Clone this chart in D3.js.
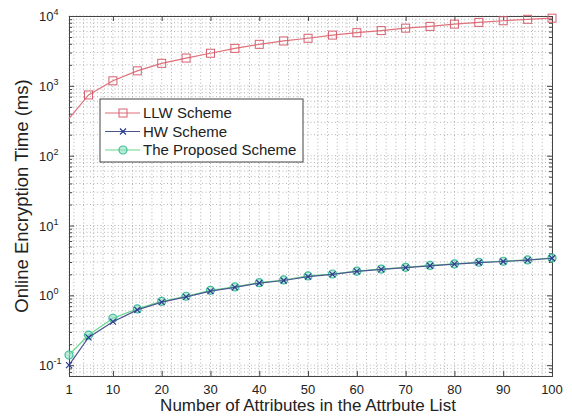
<!DOCTYPE html>
<html>
<head>
<meta charset="utf-8">
<style>
  body { margin: 0; background: #fff; }
  svg { font-family: "Liberation Sans", Arial, sans-serif; }
  .grid line { stroke: #b4b4b4; stroke-dasharray: 1,2.5; stroke-width: 1; }
  .axis path, .axis line { stroke: #444; }
</style>
</head>
<body>
<svg id="chart" width="572" height="417"></svg>
<script src="https://d3js.org/d3.v7.min.js"></script>
<script>
// values
const attrs = [1, 5, 10, 15, 20, 25, 30, 35, 40, 45, 50, 55, 60, 65, 70, 75, 80, 85, 90, 95, 100];
const llw = [340, 740, 1180, 1640, 2100, 2500, 2930, 3440, 3930, 4390, 4800, 5330, 5770, 6180, 6700, 7100, 7650, 8100, 8550, 8970, 9300];
const hw = [0.1, 0.25, 0.42, 0.62, 0.8, 0.95, 1.15, 1.3, 1.5, 1.63, 1.85, 2.0, 2.2, 2.35, 2.5, 2.65, 2.8, 2.95, 3.05, 3.2, 3.4];
const proposed = [0.14, 0.27, 0.47, 0.64, 0.82, 0.97, 1.18, 1.32, 1.52, 1.66, 1.9, 2.02, 2.22, 2.38, 2.52, 2.68, 2.82, 2.98, 3.08, 3.22, 3.42];
const xTicks = [1, 10, 20, 30, 40, 50, 60, 70, 80, 90, 100];
const yExps = [-1, 0, 1, 2, 3, 4];
const legendNames = ["LLW Scheme", "HW Scheme", "The Proposed Scheme"];

const plotL = 69, plotR = 552, plotT = 16, plotB = 376;
const svg = d3.select("#chart");

const x = d3.scaleLinear().domain([1, 100]).range([plotL, plotR]);
const y = d3.scaleLog().domain([0.07, 10000]).range([plotB, plotT]);

// minor positions
const yMinor = [];
for (let e = -2; e <= 3; e += 1) {
  for (let m = 2; m <= 9; m += 1) {
    const v = m * Math.pow(10, e);
    if (v >= 0.07 && v <= 10000) yMinor.push(v);
  }
}
const yMajor = yExps.map((e) => Math.pow(10, e));
const xMinor = d3.range(2, 100, 2).filter((v) => xTicks.indexOf(v) < 0);

// grid
const grid = svg.append("g").attr("class", "grid");
grid.selectAll("line.gy").data(yMajor.concat(yMinor)).enter().append("line")
  .attr("x1", plotL).attr("x2", plotR)
  .attr("y1", (d) => y(d)).attr("y2", (d) => y(d));
grid.selectAll("line.gx").data(xTicks.concat(xMinor)).enter().append("line")
  .attr("y1", plotT).attr("y2", plotB)
  .attr("x1", (d) => x(d)).attr("x2", (d) => x(d));

// axes, ticks inward on all four sides
const ax = svg.append("g").attr("class", "axis");
ax.append("g").attr("transform", `translate(0,${plotB})`)
  .call(d3.axisBottom(x).tickValues(xTicks).tickSize(-5).tickFormat(""));
ax.append("g").attr("transform", `translate(0,${plotT})`)
  .call(d3.axisTop(x).tickValues(xTicks).tickSize(-5).tickFormat(""));
ax.append("g").attr("transform", `translate(${plotL},0)`)
  .call(d3.axisLeft(y).tickValues(yMajor).tickSize(-5).tickFormat(""));
ax.append("g").attr("transform", `translate(${plotR},0)`)
  .call(d3.axisRight(y).tickValues(yMajor).tickSize(-5).tickFormat(""));
ax.append("g").attr("transform", `translate(${plotL},0)`)
  .call(d3.axisLeft(y).tickValues(yMinor).tickSize(-3).tickFormat(""));
ax.append("g").attr("transform", `translate(${plotR},0)`)
  .call(d3.axisRight(y).tickValues(yMinor).tickSize(-3).tickFormat(""));
ax.selectAll(".domain").attr("stroke", "#444");

// tick labels
svg.append("g").selectAll("text").data(xTicks).enter().append("text")
  .attr("x", (d) => x(d)).attr("y", 394)
  .attr("text-anchor", "middle").attr("font-size", 13).attr("fill", "#222")
  .text((d) => d);

const yl = svg.append("g").selectAll("text").data(yExps).enter().append("text")
  .attr("x", 39).attr("y", (d) => y(Math.pow(10, d)) + 5)
  .attr("font-size", 13).attr("fill", "#222");
yl.append("tspan").text("10");
yl.append("tspan").attr("dy", -6).attr("font-size", 9).text((d) => d);

// axis titles
svg.append("text")
  .attr("x", 308).attr("y", 411)
  .attr("text-anchor", "middle").attr("font-size", 17).attr("fill", "#222")
  .text("Number of Attributes in the Attrbute List");
svg.append("text")
  .attr("transform", "translate(28,196) rotate(-90)")
  .attr("text-anchor", "middle").attr("font-size", 18.5).attr("fill", "#222")
  .text("Online Encryption Time (ms)");

// series
const series = [
  { name: legendNames[0], values: llw, line: "#e0707a", mark: "#d86070", shape: "square" },
  { name: legendNames[2], values: proposed, line: "#6ad890", mark: "#3cbf9a", shape: "circle" },
  { name: legendNames[1], values: hw, line: "#4a5690", mark: "#2a3a90", shape: "cross" }
];

const line = d3.line().x((d) => x(d[0])).y((d) => y(d[1]));

const drawMarker = (g, shape, color, cx, cy) => {
  if (shape === "square") {
    g.append("rect").attr("x", cx - 4).attr("y", cy - 4).attr("width", 8).attr("height", 8)
      .attr("fill", "none").attr("stroke", color).attr("stroke-width", 1);
  } else if (shape === "circle") {
    g.append("circle").attr("cx", cx).attr("cy", cy).attr("r", 4)
      .attr("fill", "#8fe0c0").attr("fill-opacity", 0.6).attr("stroke", color).attr("stroke-width", 1.2);
  } else {
    g.append("path").attr("d", `M${cx - 3},${cy - 3}L${cx + 3},${cy + 3}M${cx - 3},${cy + 3}L${cx + 3},${cy - 3}`)
      .attr("stroke", color).attr("stroke-width", 1.2);
  }
};

series.forEach((s) => {
  const pts = attrs.map((a, i) => [a, s.values[i]]);
  const g = svg.append("g");
  g.append("path").datum(pts).attr("d", line)
    .attr("fill", "none").attr("stroke", s.line).attr("stroke-width", 1.2);
  pts.forEach((p, i) => {
    if (s.shape === "square" && i === 0) return;
    drawMarker(g, s.shape, s.mark, x(p[0]), y(p[1]));
  });
});

// legend
const lg = svg.append("g");
lg.append("rect").attr("x", 100).attr("y", 99).attr("width", 203).attr("height", 63)
  .attr("fill", "#fff").attr("stroke", "#444");
const legendStyle = [series[0], series[2], series[1]];
legendStyle.forEach((s, i) => {
  const ly = 113 + i * 18.5;
  lg.append("line").attr("x1", 105).attr("x2", 140).attr("y1", ly).attr("y2", ly)
    .attr("stroke", s.line).attr("stroke-width", 1.2);
  drawMarker(lg, s.shape, s.mark, 123, ly);
  lg.append("text").attr("x", 143).attr("y", ly + 5)
    .attr("font-size", 15).attr("fill", "#222").text(s.name);
});
</script>
</body>
</html>
